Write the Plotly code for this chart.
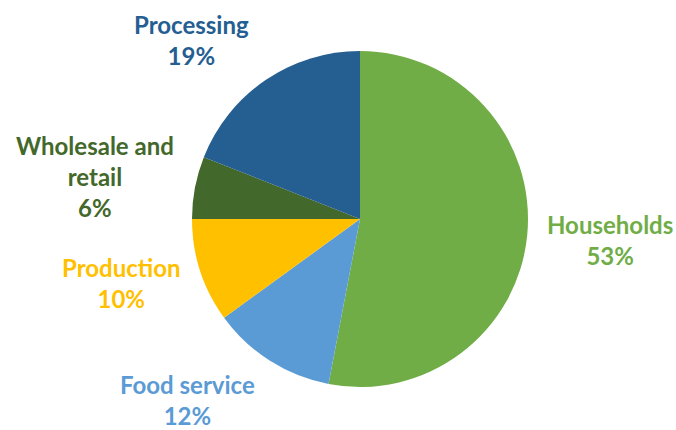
import plotly.graph_objects as go

# Share of food waste by sector (%)
sectors = ["Households", "Food service", "Production", "Wholesale and<br>retail", "Processing"]
shares = [53, 12, 10, 6, 19]
colors = ["#70AD47", "#5B9BD5", "#FFC000", "#43682B", "#255E91"]

W, H = 676, 430
cx, cy, r = 360, 219, 168  # pie centre and radius in pixels

fig = go.Figure(
    go.Pie(
        labels=sectors,
        values=shares,
        sort=False,
        direction="clockwise",
        rotation=0,
        marker=dict(colors=colors, line=dict(width=0)),
        textinfo="none",
        hoverinfo="skip",
        showlegend=False,
        domain=dict(x=[(cx - r) / W, (cx + r) / W], y=[(H - cy - r) / H, (H - cy + r) / H]),
    )
)

# label centres in pixels, one per sector
label_pos = [(610, 240), (187, 400), (121, 283), (95, 176), (191, 40)]
for name, val, col, (px, py) in zip(sectors, shares, colors, label_pos):
    fig.add_annotation(
        x=px / W, y=1 - py / H, xref="paper", yref="paper",
        text=f"{name}<br>{val}%", showarrow=False,
        xanchor="center", yanchor="middle", align="center",
        font=dict(family="Lato", size=24, color=col, weight="bold"),
    )

fig.update_layout(
    width=W, height=H,
    margin=dict(l=0, r=0, t=0, b=0),
    paper_bgcolor="white", plot_bgcolor="white",
)

fig.write_html("out.html")
